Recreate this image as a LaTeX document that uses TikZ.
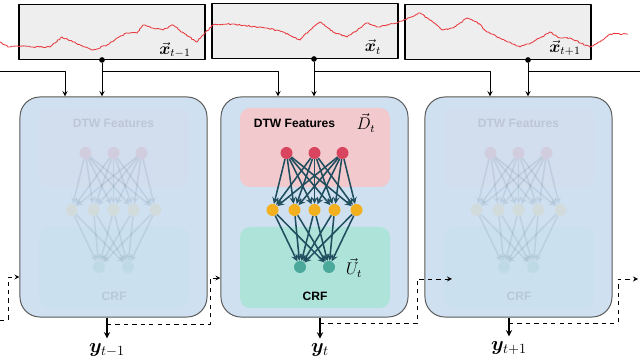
\documentclass[tikz,border=0pt]{standalone}
\usepackage{amsmath,bm}
\usepackage{fontspec}
\newfontfamily\labelfont{Liberation Sans}
\usetikzlibrary{positioning,decorations.pathmorphing}
\definecolor{cellblue}{HTML}{CFE0F1}
\definecolor{sigfill}{HTML}{EEEEEE}
\definecolor{dtwpink}{HTML}{F2C9CD}
\definecolor{crfteal}{HTML}{AEE3DA}
\definecolor{nodered}{HTML}{D9445F}
\definecolor{nodeorange}{HTML}{F2B01E}
\definecolor{nodeteal}{HTML}{4BA99B}
\definecolor{edgeteal}{HTML}{1F4E5E}
\definecolor{serie}{HTML}{E8383D}
\begin{document}
\begin{tikzpicture}[x=0.025cm, y=-0.025cm, line join=round, >=stealth,
	sigbox/.style={draw=black, line width=0.85pt, fill=sigfill, minimum width=4.65cm, minimum height=1.375cm, inner sep=0},
	cell/.style={draw=black!65, line width=0.7pt, fill=cellblue, rounded corners=0.5cm, minimum width=4.675cm, minimum height=5.5cm, inner sep=0},
	unit/.style={circle, inner sep=0, minimum size=0.3cm},
	dot/.style={circle, fill=black, inner sep=0, minimum size=4pt},
	tag/.style={font=\labelfont\bfseries\fontsize{8.6}{10}\selectfont},
	link/.style={->, edgeteal, line width=1.1pt},
	feed/.style={->, line width=0.7pt},
	output/.style={->, line width=1pt},
	memo/.style={->, dashed, line width=0.6pt}]
	\useasboundingbox (0,0) rectangle (640,360);
	% signal windows
	\node[sigbox] (xa) at (112,32) {};
	\node[sigbox] (xb) at (305,31) {};
	\node[sigbox] (xc) at (498,32) {};
	\node[font=\large] at (175,50) {$\vec{\bm x}_{t-1}$};
	\node[font=\large] at (373,47) {$\vec{\bm x}_{t}$};
	\node[font=\large] at (565,48) {$\vec{\bm x}_{t+1}$};
	\pgfmathsetseed{7}
	\draw[serie, line width=0.6pt, decorate, decoration={random steps, segment length=1.2pt, amplitude=0.45pt}]
	plot coordinates {(0,42) (8,47) (17,46) (33,47) (50,47) (62,37) (73,42) (93,50) (107,45) (117,38) (127,33) (137,33) (143,25) (153,28) (163,30) (173,25) (182,32) (197,42) (205,33) (213,25) (227,24) (240,25) (267,28) (283,32) (300,40) (313,27) (320,22) (333,32) (347,37) (360,28) (367,23) (377,27) (397,23) (420,13) (430,20) (443,30) (453,28) (467,18) (477,22) (487,32) (500,38) (520,47) (533,42) (550,32) (560,38) (570,38) (590,47) (603,40) (610,34) (628,34)};
	% cells
	\node[cell] (cella) at (113.5,207) {};
	\node[cell] (cellb) at (314.5,207) {};
	\node[cell] (cellc) at (518.5,207) {};
	\foreach \n/\cx/\op/\dx in {a/113.5/0.1/0, b/314.5/1/-20, c/518.5/0.1/0}
	{\begin{scope}[opacity=\op]
		\fill[dtwpink, rounded corners=0.25cm] (\cx-74.5,108) rectangle (\cx+75.5,187);
		\fill[crfteal, rounded corners=0.25cm] (\cx-74.5,227) rectangle (\cx+75.5,308);
		\foreach \i/\ux in {1/-28,2/0,3/28} {\node[unit, fill=nodered] (r\n\i) at (\cx+\ux,153) {};}
		\foreach \j/\ux in {1/-42,2/-20,3/0,4/20,5/42} {\node[unit, fill=nodeorange] (o\n\j) at (\cx+\ux,210) {};}
		\foreach \k/\ux in {1/-14.5,2/14.5} {\node[unit, fill=nodeteal] (g\n\k) at (\cx+\ux,267) {};}
		\foreach \i in {1,2,3} {\foreach \j in {1,...,5} {\draw[link] (r\n\i) -- (o\n\j);}}
		\foreach \j in {1,...,5} {\foreach \k in {1,2} {\draw[link] (o\n\j) -- (g\n\k);}}
		\node[tag] at (\cx+\dx,123) {DTW Features};
		\node[tag] at (\cx+0.5,296) {CRF};
	\end{scope}}
	\node[font=\large] at (366,123) {$\vec{D}_t$};
	\node[font=\large] at (354,268) {$\vec{U}_t$};
	% inputs
	\node[dot] (da) at (102,60) {};
	\node[dot] (db) at (314,59) {};
	\node[dot] (dc) at (528,60) {};
	\coordinate (w0) at (0,71);
	\coordinate (s0) at (65,71);
	\coordinate (sa) at (278,71);
	\coordinate (sb) at (490,71);
	\coordinate (e0) at (640,71);
	\draw[feed] (w0) -- (s0) -- (s0 |- cella.north);
	\draw[feed] (da) -- (da |- cella.north);
	\draw[feed] (da) |- (sa) -- (sa |- cellb.north);
	\draw[feed] (db) -- (db |- cellb.north);
	\draw[feed] (db) |- (sb) -- (sb |- cellc.north);
	\draw[feed] (dc) -- (dc |- cellc.north);
	\draw[line width=0.7pt] (dc) |- (e0);
	% outputs
	\node[font=\Large] (ya) at (107,350) {$\bm y_{t-1}$};
	\node[font=\Large] (yb) at (320,350) {$\bm y_{t}$};
	\node[font=\Large] (yc) at (509,348) {$\bm y_{t+1}$};
	\draw[output] (ya |- cella.south) -- (ya);
	\draw[output] (yb |- cellb.south) -- (yb);
	\draw[output] (yc |- cellc.south) -- (yc);
	% carried state
	\coordinate (w1) at (0,320);
	\coordinate (k0) at (8,277);
	\coordinate (ma) at (107,324);
	\coordinate (ka) at (210,278);
	\coordinate (mb) at (320,323);
	\coordinate (kb) at (417,279);
	\coordinate (tb) at (452,279);
	\coordinate (mc) at (509,323);
	\coordinate (kc) at (618,279);
	\coordinate (tc) at (638,279);
	\draw[memo] (w1) -| (k0) -- (k0 -| cella.west);
	\draw[memo] (ma) -| (ka) -- (ka -| cellb.west);
	\draw[memo] (mb) -| (kb) -- (tb);
	\draw[memo] (mc) -| (kc) -- (tc);
\end{tikzpicture}
\end{document}
